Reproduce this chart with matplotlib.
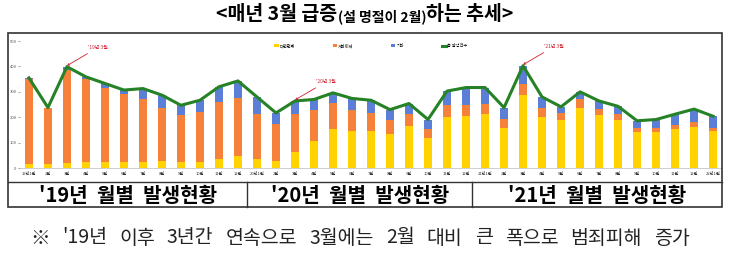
import matplotlib
matplotlib.use('Agg')
import matplotlib.pyplot as plt
from matplotlib.patches import Rectangle
import numpy as np

plt.rcParams['font.family'] = ['Noto Sans CJK KR', 'DejaVu Sans']

# monthly counts, Jan 2019 .. Jan 2022
months = ['19년1월'] + ['%d월' % m for m in range(2, 13)] + \
         ['20년1월'] + ['%d월' % m for m in range(2, 13)] + \
         ['21년1월'] + ['%d월' % m for m in range(2, 13)] + ['22년1월']

face = [17, 14, 21, 22, 22, 24, 24, 26, 25, 25, 37, 46,
        37, 26, 63, 107, 153, 146, 146, 133, 166, 120, 201, 204,
        214, 159, 287, 201, 191, 237, 208, 188, 142, 142, 153, 162,
        145]
transfer = [332, 224, 364, 327, 295, 269, 246, 212, 183, 196, 224, 228,
            177, 149, 151, 123, 104, 84, 71, 55, 45, 35, 46, 43,
            37, 33, 43, 36, 26, 33, 26, 26, 17, 17, 15, 20,
            14]
other = [6, 0, 14, 10, 16, 14, 43, 49, 39, 46, 59, 69,
         66, 42, 50, 40, 39, 44, 50, 42, 43, 36, 56, 70,
         66, 46, 73, 43, 24, 30, 30, 29, 27, 32, 44, 50,
         45]
total = [a + b + c for a, b, c in zip(face, transfer, other)]

legend_labels = ['대면편취', '계좌이체', '기타', '총 발생건수']
notes = [(2, "'19년 3월"), (14, "'20년 3월"), (26, "'21년 3월")]

W, H = 730, 257
fig = plt.figure(figsize=(W / 100, H / 100), dpi=100)
r = fig.canvas.get_renderer()


def fx(px):
    return px / W


def fy(py):
    return 1 - py / H


ax = fig.add_axes([fx(20), fy(168), fx(722) - fx(20), fy(36) - fy(168)])
x = np.arange(len(months))
bw = 0.44
b1 = ax.bar(x, face, bw, color='#FFD200', zorder=2)
b2 = ax.bar(x, transfer, bw, bottom=face, color='#F5813A', zorder=2)
bottom2 = [a + b for a, b in zip(face, transfer)]
b3 = ax.bar(x, other, bw, bottom=bottom2, color='#5B7FD6', zorder=2)
ln, = ax.plot(x, total, color='#268226', lw=2.2, zorder=3)

ax.set_xlim(-0.47, 36.47)
ax.set_ylim(0, 520)
ax.set_yticks(range(0, 501, 100))
ax.set_xticks(x)
ax.set_xticklabels(months, fontsize=3)
ax.tick_params(axis='y', labelsize=3, length=1.5, width=0.4, colors='#555555', pad=1)
ax.tick_params(axis='x', length=0, pad=3, colors='#333333')
for s in ['top', 'right', 'left']:
    ax.spines[s].set_visible(False)
ax.spines['bottom'].set_color('#bbbbbb')
ax.spines['bottom'].set_linewidth(0.5)

for i, t in notes:
    ax.annotate(t, xy=(i, total[i] + 4), xytext=(i + 1.1, total[i] + 75),
                fontsize=3.5, color='#D02030', ha='left', va='center',
                arrowprops=dict(arrowstyle='->', color='#D02030', lw=0.6,
                                shrinkA=1, shrinkB=0))

ax.legend([b1, b2, b3, ln], legend_labels, loc='upper center',
          bbox_to_anchor=(0.5, 0.97), ncol=4, fontsize=3, frameon=False,
          handlelength=1, handletextpad=0.3, columnspacing=9)

# frame around chart and year labels
fig.add_artist(Rectangle((fx(8), fy(207)), fx(722) - fx(8), fy(33) - fy(207),
                         transform=fig.transFigure, fill=False, lw=1.2,
                         edgecolor='#333333'))
fig.add_artist(plt.Line2D([fx(8), fx(722)], [fy(182), fy(182)],
                          transform=fig.transFigure, lw=1.0, color='#333333'))
for xd in [247, 472]:
    fig.add_artist(plt.Line2D([fx(xd), fx(xd)], [fy(182), fy(207)],
                              transform=fig.transFigure, lw=1.0, color='#333333'))

years = ["'19년  월별  발생현황", "'20년  월별  발생현황", "'21년  월별  발생현황"]
for cx, t in zip([128, 360, 597], years):
    fig.text(fx(cx), fy(195), t, fontsize=14.5, fontweight='bold',
             ha='center', va='center')

# title in three pieces, middle one smaller
parts = [('<매년 3월 급증', 14), ('(설 명절이 2월)', 10), ('하는 추세>', 14)]
txts = []
for s, fs in parts:
    txts.append(fig.text(0, fy(15), s, fontsize=fs, fontweight='bold',
                         ha='left', va='center'))
widths = [t.get_window_extent(r).width for t in txts]
xpos = 365 - sum(widths) / 2
for t, w, (s, fs) in zip(txts, widths, parts):
    t.set_x(fx(xpos))
    if fs < 14:
        t.set_y(fy(16.5))
    xpos += w

# bottom note, words spread from x=30 to x=690
note_words = "※ '19년 이후 3년간 연속으로 3월에는 2월 대비 큰 폭으로 범죄피해 증가".split()
wt = [fig.text(0, fy(238), w, fontsize=14, ha='left', va='center',
               color='#222222') for w in note_words]
ww = [t.get_window_extent(r).width for t in wt]
gap = (660 - sum(ww)) / (len(ww) - 1)
xpos = 30
for t, w in zip(wt, ww):
    t.set_x(fx(xpos))
    xpos += w + gap

fig.savefig('out.png', dpi=100)
